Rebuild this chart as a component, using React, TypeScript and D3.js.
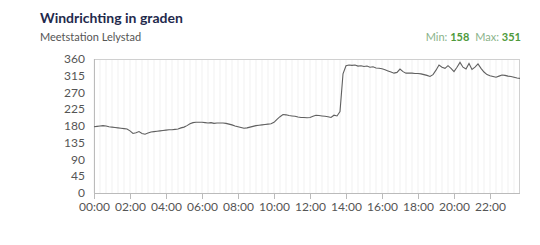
import React from "react";
import * as d3 from "d3";

// Wind direction (degrees), 10-minute samples from 00:00 to 23:40
const windDirection: number[] = [
  // 00
  178, 179, 180, 181, 180, 178,
  // 01
  177, 176, 175, 174, 173, 172,
  // 02
  167, 160, 162, 165, 160, 158,
  // 03
  161, 164, 165, 166, 167, 168,
  // 04
  169, 170, 170, 171, 172, 175,
  // 05
  177, 181, 186, 189, 190, 190,
  // 06
  190, 189, 188, 189, 187, 188,
  // 07
  188, 188, 187, 185, 183, 180,
  // 08
  178, 176, 174, 175, 177, 179,
  // 09
  181, 182, 183, 184, 185, 186,
  // 10
  190, 198, 205, 211, 210, 208,
  // 11
  207, 206, 204, 203, 203, 202,
  // 12
  203, 206, 209, 208, 207, 206,
  // 13
  205, 203, 209, 207, 219, 320,
  // 14
  342, 344, 343, 344, 341, 342,
  // 15
  340, 341, 338, 339, 336, 335,
  // 16
  334, 331, 328, 325, 322, 324,
  // 17
  333, 326, 322, 322, 322, 321,
  // 18
  321, 320, 318, 316, 313, 318,
  // 19
  330, 344, 338, 335, 342, 335,
  // 20
  326, 338, 351, 338, 333, 348,
  // 21
  332, 338, 347, 335, 325, 318,
  // 22
  315, 313, 311, 314, 317, 316,
  // 23
  314, 313, 311, 309, 308,
];
const stepMinutes = 10;
const yTicks: number[] = [0, 45, 90, 135, 180, 225, 270, 315, 360];
const xTickHours: number[] = [0, 2, 4, 6, 8, 10, 12, 14, 16, 18, 20, 22];
const title = "Windrichting in graden";
const subtitle = "Meetstation Lelystad";
const minValue = 158;
const maxValue = 351;

export default function App() {
  const W = 540, H = 245;
  const left = 94, right = 520, top = 59, bottom = 193;
  const base = new Date(2024, 0, 1, 0, 0);
  const data = windDirection.map((v, i) => ({
    t: new Date(base.getTime() + i * stepMinutes * 60000),
    v,
  }));
  const x = d3
    .scaleTime()
    .domain(d3.extent(data, (d) => d.t) as [Date, Date])
    .range([left, right]);
  const y = d3.scaleLinear().domain([0, 360]).range([bottom, top]);
  const line = d3
    .line<{ t: Date; v: number }>()
    .x((d) => x(d.t))
    .y((d) => y(d.v))
    .curve(d3.curveLinear);

  const gridTimes = d3.timeMinute.every(20)!.range(x.domain()[0], x.domain()[1]);
  const font = "Lato, 'Open Sans', sans-serif";

  return (
    <svg
      width={W}
      height={H}
      style={{ position: "absolute", left: 0, top: 0, background: "#fff" }}
      fontFamily={font}
    >
      <text x={40} y={23} fontSize={14} fontWeight={700} fill="#1f2a4d">
        {title}
      </text>
      <text x={40} y={41} fontSize={11} fill="#555">
        {subtitle}
      </text>
      <text x={521} y={41} fontSize={11} textAnchor="end">
        <tspan fill="#8ab38a">Min: </tspan>
        <tspan fill="#4e9a3c" fontWeight={700}>{minValue}</tspan>
        <tspan fill="#8ab38a" dx={6}>Max: </tspan>
        <tspan fill="#4e9a3c" fontWeight={700}>{maxValue}</tspan>
      </text>

      {gridTimes.map((t, i) => (
        <line
          key={"g" + i}
          x1={x(t)}
          x2={x(t)}
          y1={top}
          y2={bottom}
          stroke="#f1f1f1"
          strokeWidth={1}
        />
      ))}
      <line x1={left} x2={right} y1={top + 0.5} y2={top + 0.5} stroke="#d0d0d0" />
      <line x1={right - 0.5} x2={right - 0.5} y1={top} y2={bottom} stroke="#d0d0d0" />
      <line x1={left + 0.5} x2={left + 0.5} y1={top} y2={bottom} stroke="#bbb" />
      <line x1={left} x2={right} y1={bottom + 0.5} y2={bottom + 0.5} stroke="#bbb" />

      {yTicks.map((v) => (
        <text
          key={"y" + v}
          x={85}
          y={y(v)}
          dy="0.35em"
          fontSize={12}
          textAnchor="end"
          fill="#555"
        >
          {v}
        </text>
      ))}
      {xTickHours.map((h) => {
        const t = new Date(base.getTime() + h * 3600000);
        const px = Math.round(x(t)) + 0.5;
        return (
          <g key={"x" + h}>
            <line x1={px} x2={px} y1={bottom} y2={bottom + 6} stroke="#bbb" />
            <text x={px} y={211} fontSize={12} textAnchor="middle" fill="#555">
              {d3.timeFormat("%H:%M")(t)}
            </text>
          </g>
        );
      })}

      <path d={line(data) || ""} fill="none" stroke="#606060" strokeWidth={1.1} />
    </svg>
  );
}
